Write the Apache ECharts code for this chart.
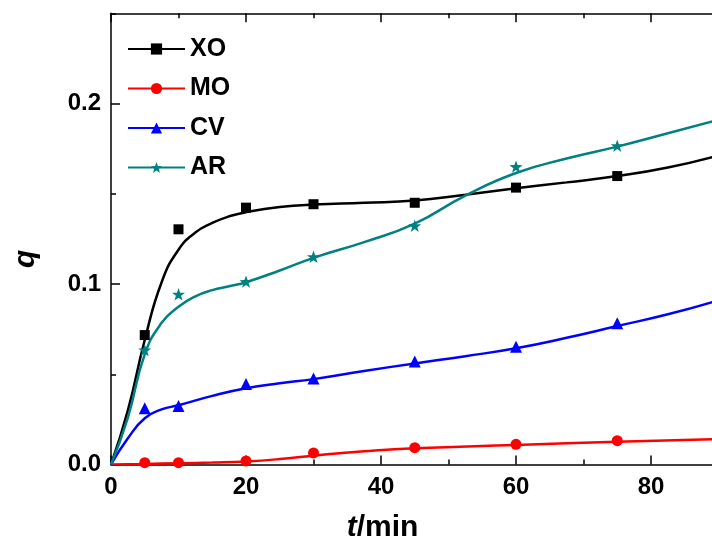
<!DOCTYPE html>
<html>
<head>
<meta charset="utf-8">
<script src="https://cdn.jsdelivr.net/npm/echarts@6/dist/echarts.min.js"></script>
<style>
html,body{margin:0;padding:0;background:#fff;}
#c{width:712px;height:548px;}
</style>
</head>
<body>
<div id="c"></div>
<script>
// ---- data (t in min, q) ----
var seriesNames = ['XO', 'MO', 'CV', 'AR'];
var xTickLabels = ['0', '20', '40', '60', '80'];
var yTickLabels = ['0.0', '0.1', '0.2'];

// measured points
var xoPoints = [[5,0.0717],[10,0.1303],[20,0.1423],[30,0.1442],[45,0.1450],[60,0.1534],[75,0.1598]];
var moPoints = [[5,0.0010],[10,0.0010],[20,0.0020],[30,0.0064],[45,0.0093],[60,0.0112],[75,0.0132]];
var cvPoints = [[5,0.0311],[10,0.0324],[20,0.0446],[30,0.0476],[45,0.0570],[60,0.0653],[75,0.0782]];
var arPoints = [[5,0.0634],[10,0.0943],[20,0.1013],[30,0.1151],[45,0.1323],[60,0.1650],[75,0.1766]];

// fitted curves
var xoCurve = [[0,0],[2.5,0.030],[5,0.069],[7.5,0.101],[10,0.119],[12.5,0.1285],[15,0.1338],[17.5,0.1375],[20,0.1398],[25,0.1426],[30,0.1440],[37.5,0.1450],[45,0.1462],[52.5,0.1495],[60,0.1530],[67.5,0.1563],[75,0.1598],[82.5,0.1645],[90,0.1712]];
var moCurve = [[0,0],[5,0.0003],[10,0.0007],[15,0.0011],[20,0.0017],[25,0.0030],[30,0.0049],[37.5,0.0073],[45,0.0090],[60,0.0108],[75,0.0126],[90,0.0141]];
var cvCurve = [[0,0],[2.5,0.0145],[5,0.0256],[7.5,0.0305],[10,0.0328],[15,0.0380],[20,0.0422],[25,0.0450],[30,0.0473],[37.5,0.0518],[45,0.0560],[52.5,0.0600],[60,0.0644],[67.5,0.0702],[75,0.0767],[82.5,0.0832],[90,0.0910]];
var arCurve = [[0,0],[2.5,0.0260],[5,0.0610],[7.5,0.0785],[10,0.0874],[12.5,0.0932],[15,0.0966],[17.5,0.0988],[20,0.1010],[25,0.1075],[30,0.1145],[37.5,0.1232],[45,0.1335],[52.5,0.1490],[60,0.1615],[67.5,0.1695],[75,0.1761],[82.5,0.1835],[90,0.1910]];

var colors = ['#000000', '#ff0000', '#0000ff', '#008080'];
var STAR = 'path://M0,-10L2.35,-3.24L9.51,-3.09L3.8,1.24L5.88,8.09L0,4L-5.88,8.09L-3.8,1.24L-9.51,-3.09L-2.35,-3.24Z';
var symbols = ['rect', 'circle', 'triangle', STAR];
var symbolSizes = [10, 11, 12, 13];
var curves = [xoCurve, moCurve, cvCurve, arCurve];
var points = [xoPoints, moPoints, cvPoints, arPoints];

var FONT = '"Liberation Sans", Arial, sans-serif';

var series = [];
for (var i = 0; i < 4; i++) {
  series.push({
    name: seriesNames[i], type: 'line', data: curves[i],
    smooth: 0.5, showSymbol: false,
    symbol: symbols[i], symbolKeepAspect: true,
    lineStyle: {color: colors[i], width: 2.5},
    itemStyle: {color: colors[i]},
    z: 2
  });
}
for (var j = 0; j < 4; j++) {
  series.push({
    type: 'scatter', data: points[j],
    symbol: symbols[j], symbolSize: symbolSizes[j], symbolKeepAspect: true,
    itemStyle: {color: colors[j], opacity: 1},
    z: 3
  });
}

var axisLineStyle = {color: '#000', width: 1.5};
var chart = echarts.init(document.getElementById('c'), null, {renderer: 'canvas'});
chart.setOption({
  animation: false,
  backgroundColor: '#fff',
  grid: {left: 111, top: 13.25, width: 675, height: 451.25, outerBoundsMode: 'none', containLabel: false},
  legend: {
    data: seriesNames, orient: 'vertical', left: 127, top: 34, padding: 0,
    itemWidth: 57, itemHeight: 14, itemGap: 9.5, itemTextGap: 9,
    selectedMode: false,
    textStyle: {fontFamily: FONT, fontWeight: 'bold', fontSize: 25, color: '#000', lineHeight: 30}
  },
  xAxis: [{
    type: 'value', position: 'bottom', min: 0, max: 100, interval: 20,
    axisLine: {show: true, onZero: false, lineStyle: axisLineStyle},
    axisTick: {show: true, inside: true, length: 9, lineStyle: axisLineStyle},
    minorTick: {show: true, splitNumber: 2, length: 5, lineStyle: axisLineStyle},
    splitLine: {show: false},
    axisLabel: {
      margin: 11, fontFamily: FONT, fontWeight: 'bold', fontSize: 24, color: '#000',
      formatter: function (v) { var k = Math.round(v / 20); return k < xTickLabels.length ? xTickLabels[k] : ''; }
    },
    name: '{i|t}{n|/min}', nameLocation: 'middle', nameGap: 48,
    nameTextStyle: {
      padding: [0, 132, 0, 0],
      rich: {
        i: {fontFamily: FONT, fontStyle: 'italic', fontWeight: 'bold', fontSize: 30, color: '#000'},
        n: {fontFamily: FONT, fontWeight: 'bold', fontSize: 30, color: '#000'}
      }
    }
  }, {
    type: 'value', position: 'top', min: 0, max: 100, interval: 20,
    axisLine: {show: true, onZero: false, lineStyle: axisLineStyle},
    axisTick: {show: true, inside: true, length: 9, lineStyle: axisLineStyle},
    minorTick: {show: true, splitNumber: 2, length: 5, lineStyle: axisLineStyle},
    splitLine: {show: false},
    axisLabel: {show: false}
  }],
  yAxis: [{
    type: 'value', position: 'left', min: 0, max: 0.25, interval: 0.1,
    axisLine: {show: true, onZero: false, lineStyle: axisLineStyle},
    axisTick: {show: true, inside: true, length: 9, lineStyle: axisLineStyle},
    splitLine: {show: false},
    axisLabel: {
      margin: 10, showMaxLabel: false, fontFamily: FONT, fontWeight: 'bold', fontSize: 24, color: '#000',
      formatter: function (v) { var k = Math.round(v * 10); return (Math.abs(v * 10 - k) < 1e-6 && k < yTickLabels.length) ? yTickLabels[k] : ''; }
    },
    name: 'q', nameLocation: 'middle', nameGap: 70, nameRotate: 90,
    nameTextStyle: {fontFamily: FONT, fontStyle: 'italic', fontWeight: 'bold', fontSize: 30, color: '#000', padding: [0, 40, 0, 0]}
  }, {
    type: 'value', position: 'left', min: 0, max: 0.25, interval: 0.05,
    axisLine: {show: false},
    axisTick: {show: true, inside: true, length: 5, lineStyle: axisLineStyle},
    splitLine: {show: false},
    axisLabel: {show: false}
  }],
  series: series
});
</script>
</body>
</html>
